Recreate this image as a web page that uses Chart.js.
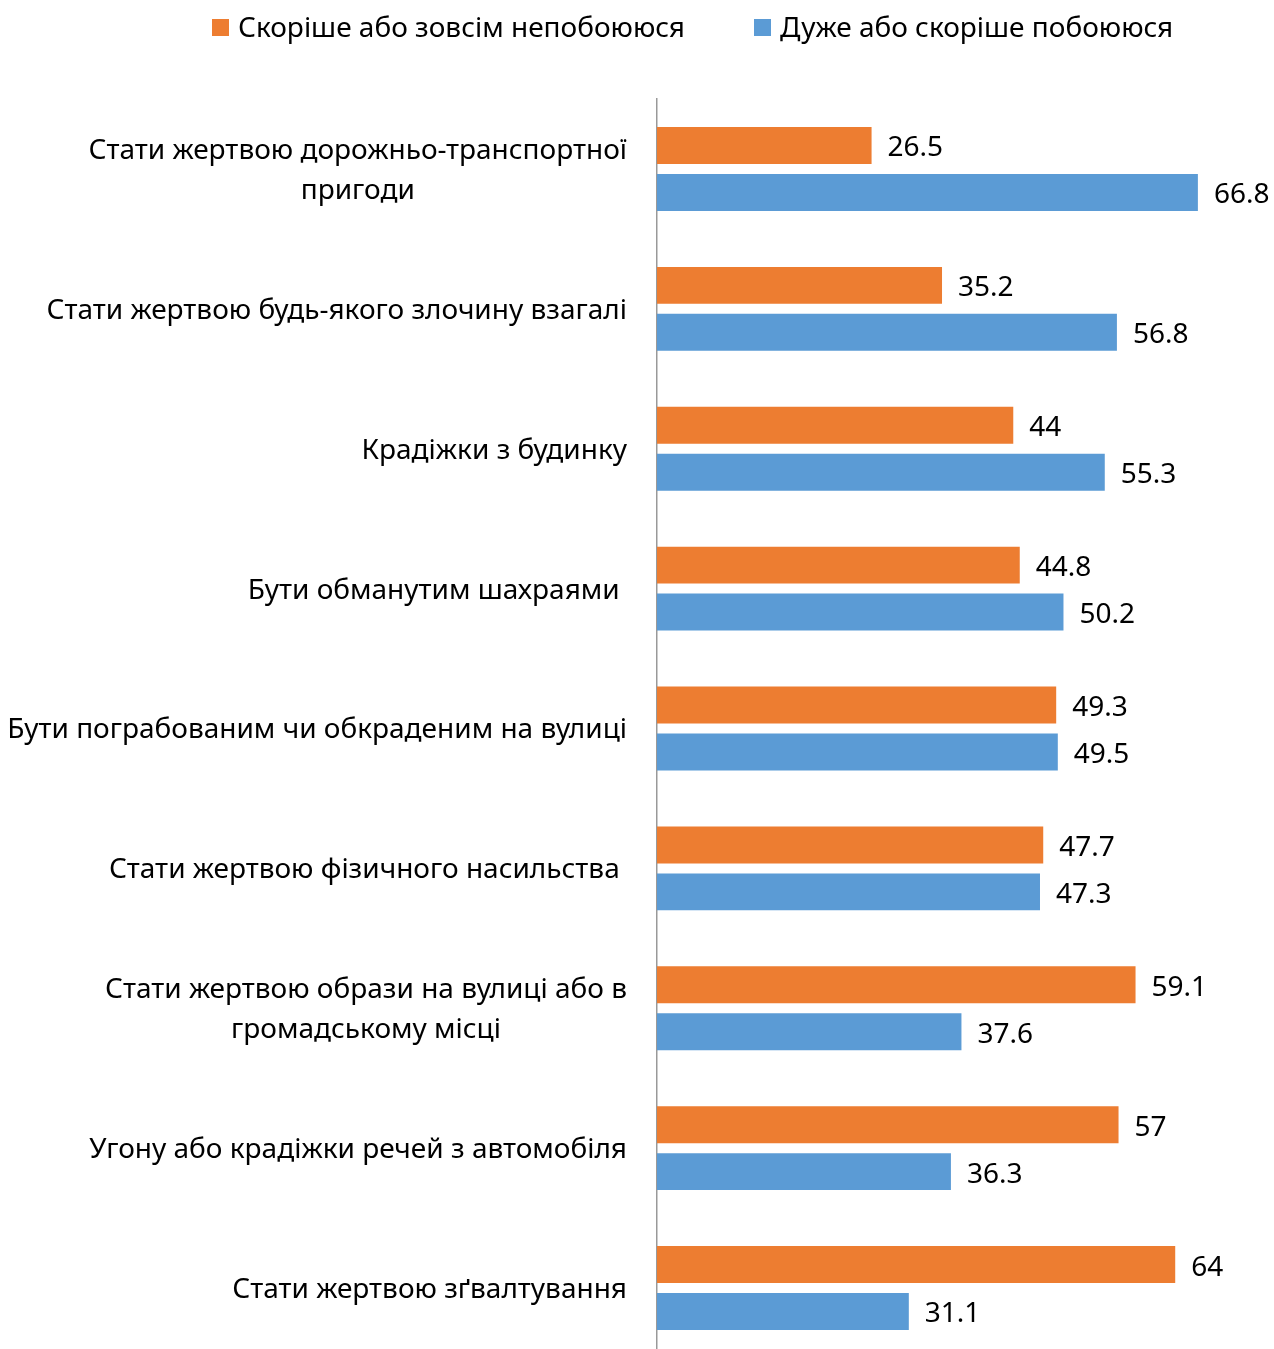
<!DOCTYPE html>
<html lang="uk">
<head>
    <meta charset="UTF-8">
    <title>Побоювання стати жертвою</title>
    <script src="https://cdn.jsdelivr.net/npm/chart.js"></script>
    <style>
        html, body { margin: 0; padding: 0; background: #fff; overflow: hidden; }
        .chart-box { position: relative; width: 1274px; height: 1358px; }
    </style>
</head>
<body>
    <div class="chart-box">
        <canvas id="fearChart"></canvas>
    </div>

    <script>
        // data
        const categories = [
            ['Стати жертвою дорожньо-транспортної', 'пригоди'],
            ['Стати жертвою будь-якого злочину взагалі'],
            ['Крадіжки з будинку'],
            ['Бути обманутим шахраями '],
            ['Бути пограбованим чи обкраденим на вулиці'],
            ['Стати жертвою фізичного насильства '],
            ['Стати жертвою образи на вулиці або в', 'громадському місці'],
            ['Угону або крадіжки речей з автомобіля'],
            ['Стати жертвою зґвалтування']
        ];
        const notAfraid = [26.5, 35.2, 44, 44.8, 49.3, 47.7, 59.1, 57, 64];
        const afraid = [66.8, 56.8, 55.3, 50.2, 49.5, 47.3, 37.6, 36.3, 31.1];
        const seriesNames = ['Скоріше або зовсім непобоююся', 'Дуже або скоріше побоююся'];

        const FONT = '"Noto Sans", sans-serif';

        // category labels, value labels and legend drawn by hand
        const textPlugin = {
            id: 'textPlugin',
            afterDatasetsDraw(chart) {
                const ctx = chart.ctx;
                const yScale = chart.scales.y;
                ctx.save();
                ctx.fillStyle = '#000';
                ctx.font = '28px ' + FONT;
                ctx.textBaseline = 'middle';

                // category labels
                categories.forEach((lines, i) => {
                    const cy = yScale.getPixelForValue(i) + 2;
                    const maxW = Math.max(...lines.map(l => ctx.measureText(l).width));
                    const cx = 627 - maxW / 2;
                    ctx.textAlign = 'center';
                    lines.forEach((line, j) => {
                        const y = cy + (j - (lines.length - 1) / 2) * 40;
                        ctx.fillText(line, cx, y);
                    });
                });

                // value labels
                ctx.textAlign = 'left';
                chart.data.datasets.forEach((ds, di) => {
                    chart.getDatasetMeta(di).data.forEach((bar, i) => {
                        ctx.fillText(String(ds.data[i]), bar.x + 16, bar.y + 3);
                    });
                });

                // legend
                const items = [
                    { x: 212, text: seriesNames[0], color: '#ED7D31' },
                    { x: 754, text: seriesNames[1], color: '#5B9BD5' }
                ];
                items.forEach(it => {
                    ctx.fillStyle = it.color;
                    ctx.fillRect(it.x, 19, 17, 17);
                    ctx.fillStyle = '#000';
                    ctx.fillText(it.text, it.x + 26, 29);
                });
                ctx.restore();
            }
        };

        const ctx = document.getElementById('fearChart').getContext('2d');
        const fearChart = new Chart(ctx, {
            type: 'bar',
            data: {
                labels: categories,
                datasets: [{
                    label: seriesNames[0],
                    data: notAfraid,
                    backgroundColor: '#ED7D31',
                    categoryPercentage: 0.671,
                    barPercentage: 0.787
                }, {
                    label: seriesNames[1],
                    data: afraid,
                    backgroundColor: '#5B9BD5',
                    categoryPercentage: 0.671,
                    barPercentage: 0.787
                }]
            },
            options: {
                indexAxis: 'y',
                responsive: true,
                maintainAspectRatio: false,
                animation: false,
                layout: { padding: { top: 99, right: 0, bottom: 0, left: 0 } },
                plugins: {
                    legend: { display: false },
                    tooltip: { enabled: false }
                },
                scales: {
                    x: {
                        display: false,
                        min: 0,
                        max: 76.2
                    },
                    y: {
                        grid: { display: false },
                        border: { display: true, color: '#999999', width: 1.5 },
                        ticks: { display: false },
                        afterFit(scale) { scale.width = 657; }
                    }
                }
            },
            plugins: [textPlugin]
        });
    </script>
</body>
</html>
